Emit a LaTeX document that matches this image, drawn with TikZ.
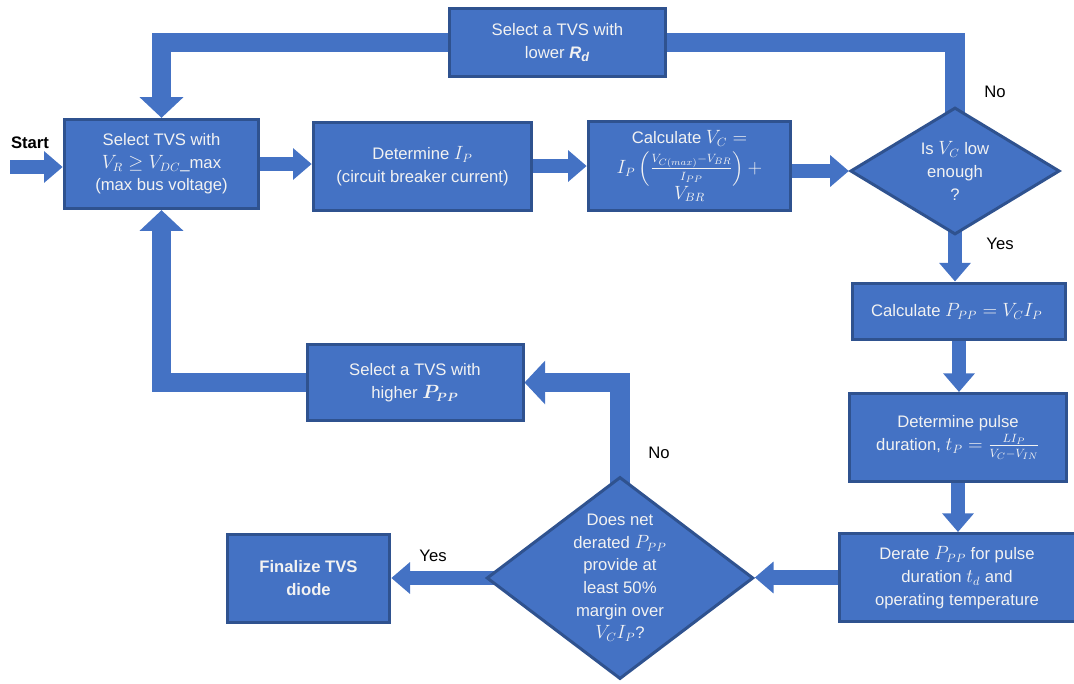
\documentclass[tikz,border=0pt]{standalone}
\usepackage{fontspec}
\setmainfont{Liberation Sans}
\usepackage{amsmath}
\DeclareMathSizes{12.5}{13.5}{9.5}{7.5}
\usepackage{tikz}
\usetikzlibrary{shapes.geometric, arrows.meta, backgrounds}
\definecolor{TvsBlue}{RGB}{68, 114, 196}
\definecolor{TvsEdge}{RGB}{47, 82, 143}
\definecolor{TvsText}{RGB}{242, 242, 242}

\begin{document}
\begin{tikzpicture}[x=0.75pt, y=-0.75pt,
    every node/.style={font=\fontsize{12.5}{17}\selectfont},
    stepbox/.style={draw=TvsEdge, line width=2.25pt, fill=TvsBlue, text=TvsText, align=center, inner sep=2pt},
    decision/.style={diamond, draw=TvsEdge, line width=2.25pt, fill=TvsBlue, text=TvsText, align=center, inner sep=0pt},
    mainarrow/.style={TvsBlue, line width=11pt, -{Triangle[width=23pt, length=14pt]}},
    backline/.style={TvsBlue, line width=14.5pt},
    backarrow/.style={backline, -{Triangle[width=32pt, length=15.5pt]}},
    answer/.style={text=black}]
    \useasboundingbox (0,0) rectangle (1074,683);

    % Select TVS
    \node[stepbox, minimum width=146pt, minimum height=67pt] (selvr) at (161.5,164) {
      Select TVS with\\ $V_R \geq V_{DC}$\_max\\ (max bus voltage)
    };

    % Determine I_P
    \node[stepbox, minimum width=164pt, minimum height=66pt] (detip) at (422.5,166) {
      Determine $I_P$\\ (circuit breaker current)
    };

    % Calculate V_C
    \node[stepbox, minimum width=152pt, minimum height=67pt, inner sep=0pt] (calcvc) at (689.5,166) {
      Calculate $V_C =$\\[3pt] $I_P\left(\frac{V_{C(max)}-V_{BR}}{I_{PP}}\right)+$\\[-1pt] $V_{BR}$
    };

    % Is V_C low enough
    \node[decision, minimum width=157pt, minimum height=89.5pt] (vclow) at (955,171) {
      Is $V_C$ low\\ enough\\ ?
    };

    % Lower R_d
    \node[stepbox, minimum width=162pt, minimum height=51pt] (lowrd) at (557.5,42.5) {
      Select a TVS with\\ lower \textbf{\textit{R}\textsubscript{\textit{d}}}
    };

    % Calculate P_PP
    \node[stepbox, minimum width=160pt, minimum height=42pt] (calcpp) at (959,311) {
      Calculate $P_{PP} = V_C I_P$
    };

    % Pulse duration
    \node[stepbox, minimum width=163pt, minimum height=66pt] (pulse) at (958,437.5) {
      Determine pulse\\ duration, $t_P = \frac{LI_P}{V_C - V_{IN}}$
    };

    % Derate P_PP
    \node[stepbox, minimum width=177pt, minimum height=66pt] (derate) at (957,577.5) {
      Derate $P_{PP}$ for pulse\\ duration $t_d$ and\\ operating temperature
    };

    % Margin check
    \node[decision, minimum width=200pt, minimum height=146pt, inner ysep=-7pt] (margin) at (620,578) {
      Does net\\ derated $P_{PP}$\\ provide at\\ least 50\%\\ margin over\\ $V_C I_P$?
    };

    % Finalize
    \node[stepbox, minimum width=122pt, minimum height=66pt] (final) at (308.5,578) {
      \textbf{Finalize TVS}\\ \textbf{diode}
    };

    % Higher P_PP
    \node[stepbox, minimum width=162pt, minimum height=57pt] (highpp) at (415,382.5) {
      Select a TVS with\\ higher $\boldsymbol{P_{PP}}$
    };

    % Labels
    \node[answer] (startlbl) at (30,143) {\textbf{Start}};
    \node[answer] (vcno) at (995,92) {No};
    \node[answer] (vcyes) at (1000,244) {Yes};
    \node[answer] (ppno) at (659,453) {No};
    \node[answer] (ppyes) at (433,556) {Yes};

    \coordinate (start) at (10,167);

    \begin{scope}[on background layer]
      \draw[mainarrow] (start) -- (start -| selvr.west);
      \draw[mainarrow] (selvr.east) -- (selvr.east -| detip.west);
      \draw[mainarrow] (detip.east) -- (calcvc.west);
      \draw[mainarrow] (calcvc.east |- vclow.west) -- (vclow.west);
      \draw[mainarrow] (vclow.center) -- (vclow.center |- calcpp.north);
      \draw[mainarrow] (calcpp.south) -- (calcpp.south |- pulse.north);
      \draw[mainarrow] (pulse.south) -- (pulse.south |- derate.north);
      \draw[mainarrow] (derate.west) -- (derate.west -| margin.east);
      \draw[mainarrow] (margin.center) -- (margin.center -| final.east);
      % feedback loops
      \draw[backline] (vclow.center) |- (lowrd.east);
      \draw[backarrow] (lowrd.west) -| (selvr.north);
      \draw[backarrow] (margin.center) |- (highpp.east);
      \draw[backarrow] (highpp.west) -| (selvr.south);
    \end{scope}
\end{tikzpicture}
\end{document}
